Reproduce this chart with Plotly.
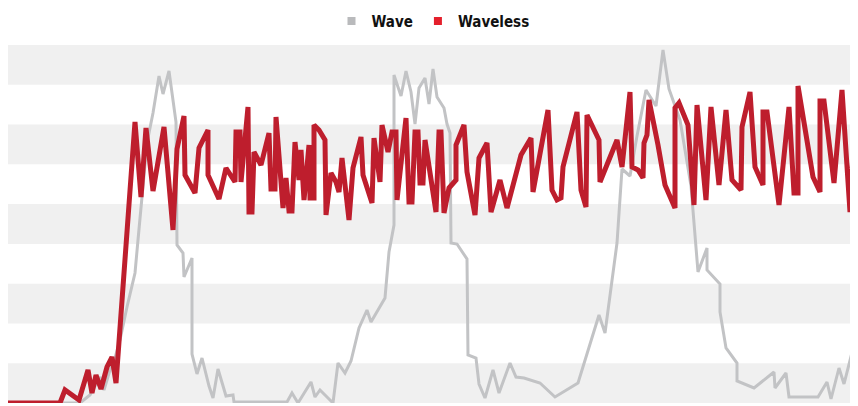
import plotly.graph_objects as go

# Wave series (time, value)
wave_t = [0, 14.4, 16.4, 18.4, 19.2, 20.4, 21.4, 22.4, 23.8, 25.4, 26, 26.8, 27.8, 29, 30.2, 31, 32.2, 33.6,
          33.8, 35, 35.2, 36.8, 36.8, 37.8, 38.8, 40.2, 41, 42, 43.6, 45, 45.2, 55.8, 56.8, 58, 60.6, 61.4,
          62.4, 63.8, 65, 66, 67.4, 68.6, 70.2, 71.8, 72.6, 75.4, 76.2, 77.2, 77.2, 78.6, 79.6, 80.6, 81.4,
          82.2, 83.4, 84.2, 85, 85.8, 87.2, 87.8, 88.4, 88.6, 89.8, 91.8, 92, 93.6, 94.2, 95.4, 97, 98.2,
          100.4, 101.6, 103.2, 106.4, 109.4, 114, 118.2, 119.4, 121.8, 122.8, 124.4, 125.8, 127.6, 129.6,
          131, 132.2, 134.4, 136.6, 138, 139.8, 139.8, 142.4, 142.4, 143.6, 145.8, 145.8, 149.2, 153.2,
          153.4, 155.6, 156.2, 162, 163.8, 164.6, 166.2, 167.2, 170]
wave_v = [0, 0, 2, 6.5, 3.25, 8.25, 11.25, 15.75, 24, 32.5, 40.75, 50.75, 65, 72.5, 81.75, 77.25, 83, 70.25,
          39.5, 37.5, 31.5, 36.25, 12.25, 7.25, 11.25, 4.25, 1.25, 8.5, 1.75, 2, 0.25, 0.25, 2.5, 0, 5.25, 1.5,
          3.25, 1.5, 0, 10, 7.5, 10.5, 18.75, 23.25, 20.25, 26.25, 37.75, 44.5, 82, 76.75, 83, 77.75, 69.75,
          78.75, 81.25, 74.75, 83.5, 76.5, 73.75, 69.75, 67.5, 40, 39.75, 36, 12, 11.25, 4.75, 1.25, 8.25, 2.5,
          10, 6.5, 6.25, 5, 1.5, 5, 22, 17.5, 40, 58.5, 56.75, 66.75, 78.25, 74.25,
          88.25, 78.5, 70.75, 54.25, 32.75, 38.75, 33.25, 29.75, 22.75, 13.75, 10, 5.5, 3.75, 7.75,
          3.75, 7.5, 1.5, 1.5, 5.25, 1, 8.75, 4.75, 18.5]

# Waveless series (time, value)
waveless_t = [0, 10.4, 11.4, 14.2, 16, 16.8, 17.6, 18.6, 19.8, 20.8, 21.6, 25.4, 26.6, 27.6, 29, 31.2, 33,
              33.8, 35.2, 35.4, 37.4, 38.2, 40, 40, 42.2, 43.6, 45.4, 45.6, 46.4, 46.6, 48, 48.2, 48.8, 49.2,
              50.6, 52.2, 52.6, 53.4, 53.6, 55, 55.6, 56.2, 56.8, 57.4, 58.2, 58.6, 59.2, 60.2, 60.4, 61.2,
              61.2, 62.2, 63.4, 63.6, 64.6, 65.6, 66.2, 66.8, 68.2, 69, 70.6, 71, 72.8, 73.2, 74.4, 74.8, 76,
              76.8, 77.6, 77.8, 79.6, 80.2, 80.8, 81.4, 82, 82.4, 83, 83.4, 85.6, 86.2, 86.6, 87.2, 88.2, 89.6,
              89.6, 91.2, 91.8, 93.4, 94.2, 95.8, 96.6, 98.4, 99.8, 102.6, 104.6, 105, 108, 108.8, 109.8,
              110.6, 111, 113.8, 114.6, 115.6, 115.8, 118.2, 118.4, 121.8, 122.8, 124.4, 124.8, 126, 127,
              127.2, 127.8, 128.2, 130, 131.4, 133.4, 133.4, 134.2, 136, 137.2, 137.8, 139.6, 140.6, 142.2,
              143.6, 144.8, 146.6, 146.8, 148.4, 149.4, 151, 151, 151.8, 154.2, 156.2, 157.2, 158, 158, 161,
              162.4, 162.4, 163.2, 165.2, 166.8, 168.4, 169.4, 170]
waveless_v = [0, 0, 3.25, 0.75, 8.25, 2.5, 7, 3.5, 9, 11.5, 5, 70.25, 51.5, 68.75, 53, 69, 43.25,
              63.5, 71.75, 57, 52.5, 63.75, 68.25, 57, 51, 58.75, 55.25, 67.75, 67.75, 55.25, 74, 47.75, 47.75, 62.75,
              59.5, 67.5, 53.5, 53.5, 71.5, 48.75, 56.25, 48, 48, 65.25, 55.75, 63.25, 50.75, 64.5, 51.25, 51.25,
              69.5, 68.25, 65.75, 47, 57.5, 55.25, 52.75, 61.25, 45.75, 58.75, 66.5, 57, 50, 66.25, 55.25, 69.5, 62.75,
              67.75, 67.75, 50.75, 71.25, 50.25, 50.25, 67.75, 67.75, 55, 55, 65.75, 47.75, 67.75, 67.75, 47.5, 53.75, 55.75,
              64.5, 69.5, 57.75, 47, 61.25, 65, 47.75, 55.75, 48.75, 62, 66.25, 52.75, 73.25, 53.25, 50.75,
              51.25, 59, 72.75, 53.25, 49, 72, 65.75, 55.25, 65.75, 59, 77.75, 59, 58.25, 56.25,
              65, 67, 75.75, 64.5, 54.5, 48.75, 73.75, 75, 69.5, 49.5, 74.5, 50.75, 74, 54.5,
              73.25, 55.75, 53.25, 69, 77.75, 59, 54.5, 72.75, 72.75, 49.5, 74, 52.5, 52.5, 79.25, 56.5,
              52.75, 75.5, 75.5, 55, 78.25, 47.75, 72.75, 72.75]

series_names = ["Wave", "Waveless"]
line_colors = ["#c2c3c5", "#be1e2d"]
legend_colors = ["#b9babc", "#e4202c"]
line_widths = [3, 5]

fig = go.Figure()
for t, v, name, lc, lw in zip([wave_t, waveless_t], [wave_v, waveless_v], series_names, line_colors, line_widths):
    fig.add_trace(go.Scatter(x=t, y=v, mode="lines", name=name, showlegend=False,
                             line=dict(color=lc, width=lw), hoverinfo="skip"))
for name, c in zip(series_names, legend_colors):
    fig.add_trace(go.Scatter(x=[None], y=[None], mode="markers", name=name,
                             marker=dict(symbol="square", size=8, color=c)))

# alternating background bands
n_bands = 9
for i in range(n_bands):
    if i % 2 == 0:
        fig.add_shape(type="rect", xref="paper", yref="paper", x0=0, x1=1,
                      y0=1 - (i + 1) / n_bands, y1=1 - i / n_bands,
                      fillcolor="#f0f0f0", line=dict(width=0), layer="below")

fig.update_layout(
    width=850, height=398,
    margin=dict(l=0, r=0, t=37, b=3, autoexpand=False),
    paper_bgcolor="white", plot_bgcolor="white",
    xaxis=dict(range=[0, 170], visible=False),
    yaxis=dict(range=[0, 89.5], visible=False),
    legend=dict(orientation="h", x=0.5, xanchor="center", y=1.02, yanchor="bottom",
                font=dict(family="DejaVu Sans Condensed, Liberation Sans Narrow, Roboto", size=15,
                          color="#111", weight="bold"),
                itemwidth=30, tracegroupgap=0),
)
fig.write_html("out.html")
